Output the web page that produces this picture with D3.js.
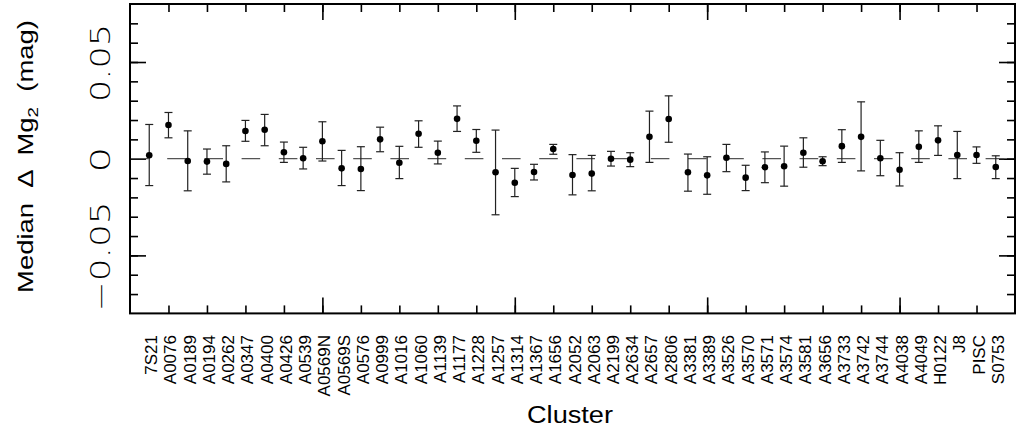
<!DOCTYPE html>
<html><head><meta charset="utf-8">
<script src="https://cdn.jsdelivr.net/npm/d3@7/dist/d3.min.js"></script>
<style>body{margin:0;background:#fff}svg{display:block}text{font-family:"Liberation Sans",Arial,sans-serif;fill:#000}
.ytl{font-family:"DejaVu Sans ExtraLight","DejaVu Sans","Liberation Sans",sans-serif;font-weight:200}
.ttl{white-space:pre}</style>
</head><body><svg id="c" width="1026" height="433"></svg>
<script>
const clusters = ["7S21","A0076","A0189","A0194","A0262","A0347","A0400","A0426","A0539","A0569N","A0569S","A0576","A0999","A1016","A1060","A1139","A1177","A1228","A1257","A1314","A1367","A1656","A2052","A2063","A2199","A2634","A2657","A2806","A3381","A3389","A3526","A3570","A3571","A3574","A3581","A3656","A3733","A3742","A3744","A4038","A4049","H0122","J8","PISC","S0753"];
const median = [0.0018,0.0174,-0.0012,-0.0015,-0.0027,0.0143,0.0150,0.0033,0.0002,0.0090,-0.0050,-0.0053,0.0100,-0.0021,0.0129,0.0031,0.0206,0.0093,-0.0070,-0.0124,-0.0069,0.0050,-0.0084,-0.0077,0.0000,-0.0005,0.0113,0.0205,-0.0070,-0.0086,0.0005,-0.0098,-0.0044,-0.0039,0.0031,-0.0013,0.0065,0.0113,0.0002,-0.0057,0.0062,0.0095,0.0019,0.0019,-0.0043];
const upper = [0.0177,0.0239,0.0144,0.0050,0.0067,0.0198,0.0229,0.0086,0.0059,0.0191,0.0043,0.0062,0.0163,0.0064,0.0196,0.0091,0.0273,0.0151,0.0148,-0.0050,-0.0029,0.0074,0.0021,0.0017,0.0038,0.0031,0.0246,0.0325,0.0024,0.0010,0.0074,-0.0034,0.0035,0.0065,0.0108,0.0010,0.0150,0.0294,0.0095,0.0031,0.0144,0.0170,0.0141,0.0061,0.0015];
const lower = [-0.0139,0.0108,-0.0166,-0.0080,-0.0120,0.0090,0.0067,-0.0019,-0.0053,-0.0012,-0.0139,-0.0165,0.0036,-0.0103,0.0059,-0.0027,0.0141,0.0033,-0.0290,-0.0196,-0.0110,0.0023,-0.0187,-0.0166,-0.0038,-0.0041,-0.0019,0.0085,-0.0168,-0.0184,-0.0067,-0.0165,-0.0124,-0.0142,-0.0044,-0.0036,-0.0019,-0.0063,-0.0088,-0.0141,-0.0019,0.0017,-0.0103,-0.0024,-0.0103];
const yTickValues = [-0.05, 0, 0.05];
const yTickLabels = ["\u22120.05", "0", "0.05"];

const L=130, R=1015, T=4, B=313.4;
const svg = d3.select("#c");
const x = d3.scaleLinear().domain([0, clusters.length + 1]).range([L, R]);
const y = d3.scaleLinear().domain([-0.08, 0.08]).range([B, T]);

const minorY = d3.range(-7, 8).map(k => k / 100);
const minorX = d3.range(2, 46, 2);
const majorX = [10, 20, 30, 40];

function ax(gen, tr) {
  const g = svg.append("g").attr("transform", tr).call(gen);
  g.select(".domain").remove();
  g.selectAll("text").remove();
  g.selectAll("line").attr("stroke", "#000").attr("stroke-width", 1.6);
  return g;
}
ax(d3.axisLeft(y).tickValues(minorY).tickSize(-8), `translate(${L},0)`);
ax(d3.axisLeft(y).tickValues(yTickValues).tickSize(-16), `translate(${L},0)`);
ax(d3.axisRight(y).tickValues(minorY).tickSize(-8), `translate(${R},0)`);
ax(d3.axisRight(y).tickValues(yTickValues).tickSize(-16), `translate(${R},0)`);
ax(d3.axisBottom(x).tickValues(minorX).tickSize(-8), `translate(0,${B})`);
ax(d3.axisBottom(x).tickValues(majorX).tickSize(-16), `translate(0,${B})`);
ax(d3.axisTop(x).tickValues(minorX).tickSize(-8), `translate(0,${T})`);
ax(d3.axisTop(x).tickValues(majorX).tickSize(-16), `translate(0,${T})`);

// dashed zero line
svg.append("line").attr("x1", L).attr("x2", R).attr("y1", y(0)).attr("y2", y(0))
  .attr("stroke", "#555").attr("stroke-width", 1.2).attr("stroke-dasharray", "18.6,18.6");

// error bars
const data = clusters.map((c, i) => ({c, i: i + 1, m: median[i], hi: upper[i], lo: lower[i]}));
const eb = svg.append("g").attr("stroke", "#222").attr("stroke-width", 1.2);
data.forEach(d => {
  const cx = x(d.i);
  eb.append("line").attr("x1", cx).attr("x2", cx).attr("y1", y(d.hi)).attr("y2", y(d.lo));
  eb.append("line").attr("x1", cx - 4).attr("x2", cx + 4).attr("y1", y(d.hi)).attr("y2", y(d.hi));
  eb.append("line").attr("x1", cx - 4).attr("x2", cx + 4).attr("y1", y(d.lo)).attr("y2", y(d.lo));
});
svg.append("g").selectAll("circle").data(data).join("circle")
  .attr("cx", d => x(d.i)).attr("cy", d => y(d.m)).attr("r", 3.3).attr("fill", "#000");

// border
svg.append("rect").attr("x", L).attr("y", T).attr("width", R - L).attr("height", B - T)
  .attr("fill", "none").attr("stroke", "#000").attr("stroke-width", 2);

// y tick labels
const ylen = {"0.05": 78, "0": 26, "\u22120.05": 110};
yTickValues.forEach((v, k) => {
  const t = yTickLabels[k];
  svg.append("text").attr("class", "ytl").attr("transform", `translate(110,${y(v) + 1}) rotate(-90)`)
    .attr("text-anchor", "middle").attr("font-size", 26)
    .attr("textLength", ylen[t]).attr("lengthAdjust", "spacingAndGlyphs").text(t);
});

// x tick labels
data.forEach(d => {
  svg.append("text").attr("transform", `translate(${x(d.i) + 8},335) rotate(-90)`)
    .attr("text-anchor", "end").attr("font-size", 17).text(d.c);
});

// axis titles
svg.append("text").attr("x", 570).attr("y", 423).attr("text-anchor", "middle")
  .attr("font-size", 23).attr("textLength", 86).attr("lengthAdjust", "spacingAndGlyphs").text("Cluster");
const yt = svg.append("text").attr("class", "ttl").attr("transform", `translate(32.7,156.5) rotate(-90)`)
  .attr("text-anchor", "middle").attr("font-size", 22);
yt.append("tspan").text("Median  \u0394  Mg");
yt.append("tspan").attr("font-size", 15).attr("dy", 5).text("2");
yt.append("tspan").attr("dy", -5).text("  (mag)");
yt.attr("textLength", 273).attr("lengthAdjust", "spacingAndGlyphs");
</script></body></html>
